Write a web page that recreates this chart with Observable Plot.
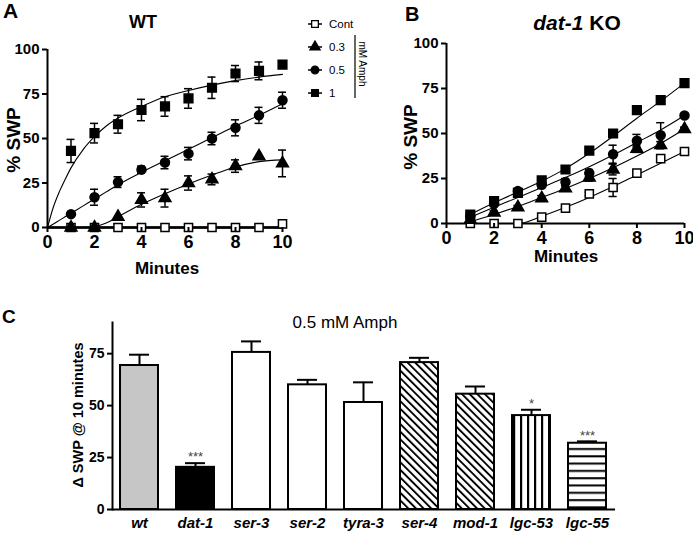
<!DOCTYPE html>
<html><head><meta charset="utf-8">
<script src="https://cdn.jsdelivr.net/npm/d3@7"></script>
<script src="https://cdn.jsdelivr.net/npm/@observablehq/plot@0.6"></script>
<style>
html,body{margin:0;padding:0;background:#fff;}
#fig{position:relative;width:693px;height:537px;overflow:hidden;background:#fff;}
#fig > svg{position:absolute;overflow:visible;}
</style></head><body><div id="fig"></div>
<script>
// ---------- DATA ----------
const minutes = [1,2,3,4,5,6,7,8,9,10];
const seriesNames = ["Cont","0.3","0.5","1"];
const xTicks = [0,2,4,6,8,10];
const yTicksKin = [0,25,50,75,100];

// Panel A: WT
const wtCont = [0,0,0,0,0,0,0,0,0,2];
const wtContErr = [0,0,0,0,0,0,0,0,0,0];
const wt03 = [0,0,6,15.5,16.5,25,27,34.5,40,36];
const wt03Err = [0,0,0,4,5,4,3,3.5,0,7.5];
const wt05 = [7.5,17,25.5,32.5,36.5,41.5,50,56,63,71.5];
const wt05Err = [0,4.5,3,2,3.5,3.5,3.5,4.5,4.5,4.5];
const wt1 = [43,53,58,66,68,72.5,78.5,86.5,88,91.5];
const wt1Err = [6.5,5.5,5,6,5.5,5.5,6,4.5,5,0];
// fitted curves, panel A
const wtFitX = [0,0.25,0.5,0.75,1,1.5,2,2.5,3,4,5,6,7,8,9,10];
const wtFitCont = [0,0,0,0,0,0,0,0,0,0,0,0,0,0,0,0];
const wtFit03 = [0,0,0,0,0,0,0.5,2.5,6,13,19,24.5,29.5,34,37,38];
const wtFit05 = [0,2,4,6,8,12,16,20,24,31,37.5,44,50.5,57,63,69.5];
const wtFit1 = [0,11.5,20,27,33.5,43.5,51,57,61.5,68,73.5,77,80,82.5,84.5,86];

// Panel B: dat-1 KO
const koCont = [0,0,0,3.5,8.5,16.5,20,28,36,40];
const koContErr = [0,0,0,1,1,1,5,1,1,1];
const ko03 = [2,6,9,14,19.5,25.5,30,41.5,43.5,52.5];
const ko03Err = [1,1,1,1.5,1.5,2,3,2,2,1];
const ko05 = [4,11,18,21.5,23,28,38.5,46,49,60];
const ko05Err = [1,1.5,1.5,2,2,2,5,3.5,7,1];
const ko1 = [5,12.5,17,24,30,40.5,50,63,68.5,78];
const ko1Err = [1,1,1,1.5,1.5,1,1.5,2,1.5,1.5];
// fitted lines, panel B
const koFitX = [1,2,3,4,5,6,7,8,9,10];
const koFitContX = [2,3,4,5,6,7,8,9,10];
const koFitCont = [0,0,4,9,14.5,20.5,27,33.5,40];
const koFit03 = [1,5,9.5,14.5,19.5,25,31,37.5,44.5,52.5];
const koFit05 = [3.5,9,14.5,20,25.5,31.5,38,45,52,60];
const koFit1 = [5,11.5,17.5,23.5,30.5,39,48.5,58.5,68,78];

// Panel C: 0.5 mM Amph at 10 minutes
const genotypes = ["wt","dat-1","ser-3","ser-2","tyra-3","ser-4","mod-1","lgc-53","lgc-55"];
const swp10 = [69.3,20.3,75.6,60,51.5,70.7,55.5,45.2,31.9];
const swp10Err = [5.2,2,5.3,2.4,9.7,2.3,3.7,2.8,0.9];
const signif = ["","***","","","","","","*","***"];
const yTicksC = [0,25,50,75];

// ---------- STYLES ----------
const SANS = '"Liberation Sans",Arial,sans-serif';
const symbolOf = {"Cont":"square","0.3":"triangle","0.5":"circle","1":"square"};
const fillOf = {"Cont":"white","0.3":"black","0.5":"black","1":"black"};
const rOf = {"Cont":4.6,"0.3":4.4,"0.5":4.5,"1":4.9};
const barFill = {"wt":"#c6c6c6","dat-1":"black","ser-3":"white","ser-2":"white","tyra-3":"white",
  "ser-4":"url(#hatchDiag)","mod-1":"url(#hatchDiag)","lgc-53":"url(#stripeV)","lgc-55":"url(#stripeH)"};

function toRows(vals, errs, series){ return minutes.map((x,i)=>({series, x, y: vals[i], err: errs[i]})); }
function toFit(xs, ys, series){ return xs.map((x,i)=>({series, x, y: ys[i]})); }

const rowsA = [...toRows(wtCont,wtContErr,"Cont"),...toRows(wt03,wt03Err,"0.3"),...toRows(wt05,wt05Err,"0.5"),...toRows(wt1,wt1Err,"1")];
const fitsA = [...toFit(wtFitX,wtFitCont,"Cont"),...toFit(wtFitX,wtFit03,"0.3"),...toFit(wtFitX,wtFit05,"0.5"),...toFit(wtFitX,wtFit1,"1")];
const rowsB = [...toRows(koCont,koContErr,"Cont"),...toRows(ko03,ko03Err,"0.3"),...toRows(ko05,ko05Err,"0.5"),...toRows(ko1,ko1Err,"1")];
const fitsB = [...toFit(koFitContX,koFitCont,"Cont"),...toFit(koFitX,koFit03,"0.3"),...toFit(koFitX,koFit05,"0.5"),...toFit(koFitX,koFit1,"1")];

function kineticMarks(rows, fits, contWidth){
  const marks = [
    Plot.ruleY([0], {stroke:"black", strokeWidth:2}),
    Plot.ruleX([0], {stroke:"black", strokeWidth:2})
  ];
  for (const s of seriesNames){
    marks.push(Plot.line(fits.filter(d=>d.series===s), {x:"x", y:"y", stroke:"black",
      strokeWidth: s==="Cont" ? contWidth : 1.1, curve:"monotone-x"}));
  }
  for (const s of seriesNames){
    const pts = rows.filter(d=>d.series===s);
    const eb = pts.filter(d=>d.err>0);
    marks.push(Plot.ruleX(eb, {x:"x", y1:d=>d.y-d.err, y2:d=>d.y+d.err, stroke:"black", strokeWidth:1.5}));
    marks.push(Plot.ruleY(eb, {y:d=>d.y+d.err, x1:d=>d.x-0.17, x2:d=>d.x+0.17, stroke:"black", strokeWidth:1.5}));
    marks.push(Plot.ruleY(eb, {y:d=>d.y-d.err, x1:d=>d.x-0.17, x2:d=>d.x+0.17, stroke:"black", strokeWidth:1.5}));
    marks.push(Plot.dot(pts, {x:"x", y:"y", symbol: symbolOf[s], r: rOf[s], fill: fillOf[s], stroke:"black", strokeWidth:1.5}));
  }
  marks.push(Plot.axisX({ticks: xTicks, tickSize:5, tickPadding:3, fontSize:18, fontWeight:"bold", strokeWidth:2, label:null}));
  marks.push(Plot.axisY({ticks: yTicksKin, tickSize:5, tickPadding:3, fontSize:15, fontWeight:"bold", strokeWidth:2, label:null}));
  return marks;
}

const fig = document.getElementById("fig");

// Panel A
const svgA = Plot.plot({
  width:300, height:260, marginLeft:47, marginRight:18, marginTop:49, marginBottom:33,
  x:{domain:[0,10], label:null}, y:{domain:[0,100], label:null},
  style:{fontFamily:SANS, color:"black", background:"transparent", overflow:"visible"},
  marks: kineticMarks(rowsA, fitsA, 2.5)
});
svgA.style.left = "0px"; svgA.style.top = "0px";
fig.appendChild(svgA);

// Panel B
const svgB = Plot.plot({
  width:293, height:260, marginLeft:46, marginRight:9, marginTop:43, marginBottom:37,
  x:{domain:[0,10], label:null}, y:{domain:[0,100], label:null},
  style:{fontFamily:SANS, color:"black", background:"transparent", overflow:"visible"},
  marks: kineticMarks(rowsB, fitsB, 1.1)
});
svgB.style.left = "400px"; svgB.style.top = "0px";
fig.appendChild(svgB);

// Panel C
const barRows = genotypes.map((g,i)=>({g, v: swp10[i], e: swp10Err[i], s: signif[i]}));
const svgC = Plot.plot({
  width:693, height:237, marginLeft:112, marginRight:78, marginTop:22, marginBottom:28,
  x:{domain:genotypes, paddingInner:0.32, paddingOuter:0.15, label:null},
  y:{domain:[0,90], label:null},
  color:{type:"identity"},
  style:{fontFamily:SANS, color:"black", background:"transparent", overflow:"visible"},
  marks:[
    Plot.frame({anchor:"left", stroke:"black", strokeWidth:2}),
    Plot.ruleX(barRows, {x:"g", y1:"v", y2:d=>d.v+d.e, stroke:"black", strokeWidth:2}),
    Plot.tickY(barRows, {x:"g", y:d=>d.v+d.e, stroke:"black", strokeWidth:2, insetLeft:9, insetRight:9}),
    Plot.barY(barRows, {x:"g", y:"v", fill:d=>barFill[d.g], stroke:"black", strokeWidth:2}),
    Plot.ruleY([0], {stroke:"black", strokeWidth:2}),
    Plot.text(barRows.filter(d=>d.s), {x:"g", y:d=>d.v+d.e, text:"s", dy:-6, fontSize:13, fill:"#444", fontFamily:SANS}),
    Plot.axisY({ticks:yTicksC, tickSize:5, tickPadding:3, fontSize:14, fontWeight:"bold", strokeWidth:2, label:null}),
    Plot.axisX({tickSize:0, tickPadding:8, fontSize:15, fontWeight:"bold", fontStyle:"italic", label:null})
  ]
});
svgC.style.left = "0px"; svgC.style.top = "300px";
// patterns
const defs = d3.select(svgC).insert("defs", ":first-child");
const pd = defs.append("pattern").attr("id","hatchDiag").attr("patternUnits","userSpaceOnUse")
  .attr("width",5.4).attr("height",5.4).attr("patternTransform","rotate(-45)");
pd.append("rect").attr("width",5.4).attr("height",5.4).attr("fill","white");
pd.append("rect").attr("width",1.9).attr("height",5.4).attr("fill","black");
const pv = defs.append("pattern").attr("id","stripeV").attr("patternUnits","userSpaceOnUse")
  .attr("width",7).attr("height",7);
pv.append("rect").attr("width",7).attr("height",7).attr("fill","white");
pv.append("rect").attr("x",2).attr("width",2.2).attr("height",7).attr("fill","black");
const ph = defs.append("pattern").attr("id","stripeH").attr("patternUnits","userSpaceOnUse")
  .attr("width",7.3).attr("height",7.3);
ph.append("rect").attr("width",7.3).attr("height",7.3).attr("fill","white");
ph.append("rect").attr("y",2).attr("width",7.3).attr("height",2).attr("fill","black");
fig.appendChild(svgC);

// ---------- Overlay: panel letters, titles, axis titles, legend ----------
const ov = d3.select(fig).append("svg").attr("width",693).attr("height",537)
  .style("left","0px").style("top","0px").style("pointer-events","none");
function txt(x,y,s,opts={}){
  const t = ov.append("text").attr("x",x).attr("y",y).text(s)
    .attr("font-family", opts.family || SANS).attr("font-size", opts.size || 16)
    .attr("font-weight", opts.weight || "normal").attr("text-anchor", opts.anchor || "start")
    .attr("fill","black");
  if (opts.rotate) t.attr("transform", `rotate(${opts.rotate},${x},${y})`);
  if (opts.italic) t.attr("font-style","italic");
  return t;
}
// panel letters
txt(3,18,"A",{size:21,weight:"bold"});
txt(405,21,"B",{size:20,weight:"bold"});
txt(2,323,"C",{size:19,weight:"bold"});
// titles
txt(143,28,"WT",{size:18,weight:"bold",anchor:"middle"});
const tB = ov.append("text").attr("x",577).attr("y",30).attr("text-anchor","middle")
  .attr("font-family",SANS).attr("font-size",21).attr("font-weight","bold");
tB.append("tspan").attr("font-style","italic").text("dat-1");
tB.append("tspan").text(" KO");
txt(345,328,"0.5 mM Amph",{size:17,anchor:"middle"});
// axis titles
txt(20,140,"% SWP",{size:19,weight:"bold",anchor:"middle",rotate:-90});
txt(167,274,"Minutes",{size:17,weight:"bold",anchor:"middle"});
txt(417,137,"% SWP",{size:19,weight:"bold",anchor:"middle",rotate:-90});
txt(566,262,"Minutes",{size:17,weight:"bold",anchor:"middle"});
txt(83,415,"\u0394 SWP @ 10 minutes",{size:14.5,weight:"bold",anchor:"middle",rotate:-90});
// legend (panel A)
const legY = [24,47,70,93];
seriesNames.forEach((s,i)=>{
  const y = legY[i];
  ov.append("line").attr("x1",308).attr("x2",322).attr("y1",y).attr("y2",y).attr("stroke","black").attr("stroke-width",1.5);
  const r = 3.8;
  ov.append("path").attr("d", d3.symbol(s==="0.3"?d3.symbolTriangle:(s==="0.5"?d3.symbolCircle:d3.symbolSquare), Math.PI*r*r)())
    .attr("transform",`translate(315,${y})`).attr("fill",fillOf[s]).attr("stroke","black").attr("stroke-width",1.3);
  txt(329,y+4,s,{size:11.5});
});
ov.append("line").attr("x1",355).attr("x2",355).attr("y1",35).attr("y2",98).attr("stroke","black").attr("stroke-width",1.2);
txt(359,64,"mM Amph",{size:10,anchor:"middle",rotate:90});
</script>
</body></html>
